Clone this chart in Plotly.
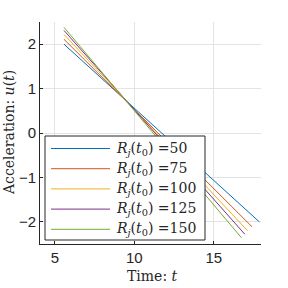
import plotly.graph_objects as go

# Data
r_values = [50, 75, 100, 125, 150]
t_start = [5.57, 5.57, 5.57, 5.57, 5.57]
u_start = [2.00, 2.11, 2.22, 2.31, 2.38]
t_end = [17.86, 17.40, 17.12, 16.95, 16.74]
u_end = [-2.00, -2.11, -2.20, -2.28, -2.36]
colors = ["#0072BD", "#D95319", "#EDB120", "#7E2F8E", "#77AC30"]
x_ticks = [5, 10, 15]
y_ticks = [-2, -1, 0, 1, 2]

W, H = 288, 288
L, R, T, B = 40, 27, 22, 44
PW, PH = W - L - R, H - T - B


def px(x):
    return (x - L) / PW


def py(y):
    return (H - B - y) / PH


fig = go.Figure()
for i, r in enumerate(r_values):
    fig.add_trace(go.Scatter(
        x=[t_start[i], t_end[i]], y=[u_start[i], u_end[i]],
        mode="lines", line=dict(color=colors[i], width=1),
        showlegend=False, hoverinfo="skip"))

axis_common = dict(
    showline=True, linecolor="#262626", linewidth=1, mirror=False,
    showgrid=True, gridcolor="#e3e3e3", gridwidth=1, zeroline=False,
    ticks="inside", ticklen=3, tickcolor="#262626",
    tickfont=dict(family="Liberation Sans, Arial, sans-serif", size=15, color="#262626"),
)
fig.update_xaxes(range=[4.06, 17.97], tickvals=x_ticks, **axis_common)
fig.update_yaxes(range=[-2.5, 2.5], tickvals=y_ticks, **axis_common)

shapes = []
annotations = []
# Legend box
shapes.append(dict(type="rect", xref="paper", yref="paper",
                   x0=px(45), x1=px(205), y0=py(240), y1=py(136),
                   fillcolor="white", line=dict(color="#262626", width=1), layer="above"))
serif = "DejaVu Serif, Liberation Serif, serif"
for i, r in enumerate(r_values):
    yy = 148.5 + 20.2 * i
    shapes.append(dict(type="line", xref="paper", yref="paper",
                       x0=px(51), x1=px(110), y0=py(yy), y1=py(yy),
                       line=dict(color=colors[i], width=1), layer="above"))
    annotations.append(dict(xref="paper", yref="paper", x=px(114), y=py(yy),
                            xanchor="left", yanchor="middle", showarrow=False,
                            text=f"<i>R<sub>j</sub></i>(<i>t</i><sub>0</sub>) ={r}",
                            font=dict(family=serif, size=14, color="#262626")))

annotations.append(dict(xref="paper", yref="paper", x=px(152), y=py(276),
                        xanchor="center", yanchor="middle", showarrow=False,
                        text="Time: <i>t</i>",
                        font=dict(family=serif, size=14, color="#262626")))
annotations.append(dict(xref="paper", yref="paper", x=px(9), y=py(133),
                        xanchor="center", yanchor="middle", showarrow=False, textangle=-90,
                        text="Acceleration: <i>u</i>(<i>t</i>)",
                        font=dict(family=serif, size=14, color="#262626")))

fig.update_layout(
    width=W, height=H, margin=dict(l=L, r=R, t=T, b=B, pad=0),
    paper_bgcolor="white", plot_bgcolor="white",
    shapes=shapes, annotations=annotations, showlegend=False,
)

fig.write_html("out.html", config={"displayModeBar": False},
               post_script="document.body.style.margin='0';document.body.style.overflow='hidden';")
